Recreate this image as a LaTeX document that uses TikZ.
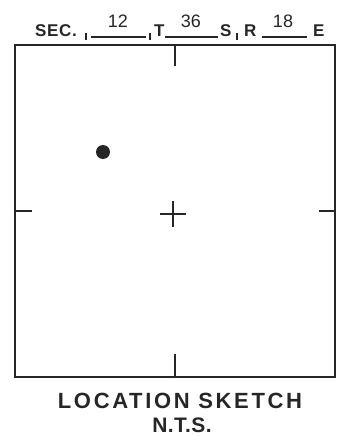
\documentclass[tikz,border=0pt]{standalone}
\usepackage{fontspec}
\setmainfont{Liberation Sans}
\usetikzlibrary{calc}

\begin{document}
\begin{tikzpicture}[x=1pt,y=-1pt,
    ink/.style={line width=2.6pt,black!85},
    blank/.style={line width=1.4pt,black!85},
    lbl/.style={inner sep=0pt,text=black!85,font=\fontsize{17}{17}\selectfont\bfseries\addfontfeature{LetterSpace=4}},
    num/.style={inner sep=0pt,text=black!85,font=\fontsize{18}{18}\selectfont},
    caption/.style={inner sep=0pt,text=black!85,font=\fontsize{22}{22}\selectfont\bfseries\addfontfeature{LetterSpace=12}}]
  \useasboundingbox (0,0) rectangle (348,444);
  % location box
  \node[ink,draw,minimum width=320pt,minimum height=332pt,inner sep=0pt] (sketch) at (175,211) {};
  % quarter ticks
  \coordinate (ttop) at ($(sketch.north)+(0,22)$);
  \coordinate (tbot) at ($(sketch.south)+(0,-24)$);
  \coordinate (tleft) at ($(sketch.west)+(18,0)$);
  \coordinate (tright) at ($(sketch.east)+(-17,0)$);
  \draw[ink] (sketch.north) -- (ttop);
  \draw[ink] (sketch.south) -- (tbot);
  \draw[ink] (sketch.west) -- (tleft);
  \draw[ink] (sketch.east) -- (tright);
  % centre cross
  \coordinate (ctr) at (173,214);
  \draw[ink] ($(ctr)+(-13,0)$) -- ($(ctr)+(13,0)$);
  \draw[ink] ($(ctr)+(0,-13)$) -- ($(ctr)+(0,13)$);
  % well spot
  \fill[black!85] (103,152) circle (7);
  % section / township / range line
  \node[lbl,anchor=base west] (sec) at (35,37) {SEC.};
  \node[lbl,anchor=base west] (twp) at (154,37) {T};
  \node[lbl,anchor=base west] (s) at (220,37) {S};
  \node[lbl,anchor=base west] (rng) at (244,37) {R};
  \node[lbl,anchor=base west] (e) at (313,37) {E};
  \draw[blank] (86,33) -- (86,40);
  \draw[blank] (91,37) -- (146,37);
  \draw[blank] (150,33) -- (150,40);
  \draw[blank] (165,37) -- (218,37);
  \draw[blank] (237,33) -- (237,40);
  \draw[blank] (262,37) -- (307,37);
  \node[num,anchor=base] (nsec) at (118,28) {12};
  \node[num,anchor=base] (ntwp) at (191,28) {36};
  \node[num,anchor=base] (nrng) at (283,28) {18};
  % caption
  \node[caption,anchor=base] (title) at (180,408) {LOCATION SKETCH};
  \node[caption,anchor=base,font=\fontsize{21}{21}\selectfont\bfseries\addfontfeature{LetterSpace=2}] (nts) at (182,432) {N.T.S.};
\end{tikzpicture}
\end{document}
